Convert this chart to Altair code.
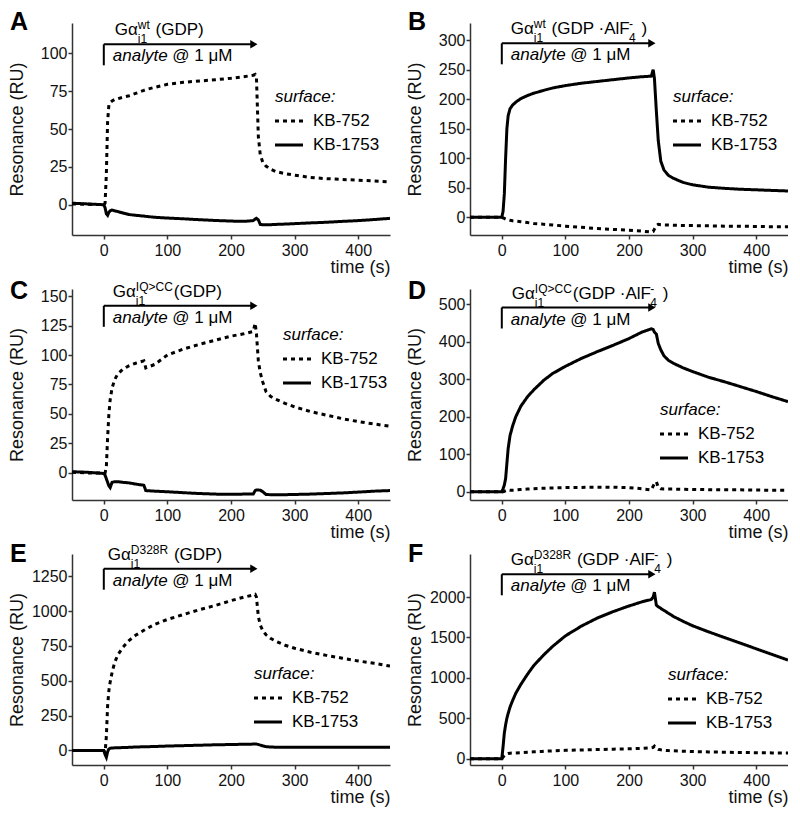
import altair as alt
import pandas as pd

# ---------------- data ----------------
SERIES = ["KB-752", "KB-1753"]
T = [-50, -25, 0, 2, 4, 6, 8, 10, 13, 17, 22, 30, 40, 50, 63, 66, 80, 100, 125, 150,
     175, 200, 220, 235, 238, 240, 243, 246, 250, 255, 262, 270, 285, 300, 325, 350,
     375, 400, 425, 450]

A_752 = [0.5, 0.3, 0, 1, 20, 55, 66, 67.5, 68.5, 69.5, 70, 71, 72, 73.5, 75.5, 76, 77.5, 79.5, 80.8, 81.7,
         82.5, 83.5, 84.5, 85.5, 86, 84, 45, 33, 28, 25.5, 23.5, 22, 20.5, 19.5, 18, 17.2, 16.7, 16.2, 15.7, 15]
A_1753 = [1, 0.5, 0, -2, -6, -7, -5, -4, -3.5, -4, -4.5, -5.5, -6.5, -7, -7.5, -7.7, -8.3, -8.8, -9.3, -9.9,
          -10.4, -10.8, -11, -10.5, -9.5, -9, -10, -13, -13.3, -13.2, -13.2, -13, -12.8, -12.5, -12, -11.6, -11, -10.5, -9.8, -9]
B_752 = [0, 0, 0, -1, -2, -3, -3.5, -4, -5, -6, -6.5, -7.5, -9, -10.5, -11.5, -12, -13, -15, -17, -19,
         -20.5, -22, -23.5, -25, -24, -20, -14, -12, -12.5, -13, -13, -13.5, -14, -14, -14.5, -15, -15, -15.5, -16, -16]
B_1753 = [0, 0, 0, 10, 40, 100, 150, 172, 184, 190, 195, 201, 206, 210, 214, 215, 219, 223, 227, 230,
          233, 236, 238, 239, 250, 235, 180, 130, 95, 80, 71, 66, 59, 55, 51, 49, 47.5, 46.5, 45.5, 44.5]
C_752 = [0.5, 0, 0, 0, 5, 30, 50, 62, 72, 79, 84, 88, 91, 93, 95, 89, 92, 100, 105, 109,
         112.5, 116, 118, 120, 127, 118, 95, 85, 77, 69, 65, 62.5, 59, 56, 52, 49, 46, 43.5, 41.5, 39.5]
C_1753 = [1, 0.5, -0.5, -2, -5, -8, -11, -12.5, -8, -7.5, -7.5, -8, -8.5, -9.5, -10.5, -15, -15.5, -16, -16.8, -17.5,
          -18, -18.2, -18, -18, -15, -14.5, -14.5, -14.7, -16, -18.3, -18.5, -18.5, -18.5, -18.3, -18, -17.5, -17, -16.3, -15.5, -15]
D_752 = [0, 0, 0, 0, 1, 3, 4, 5, 4, 4, 5, 6, 7, 8, 9, 9, 10, 11, 11.5, 12,
         12, 11, 8, 5, 15, 22, 27, 12, 8, 7, 7, 7, 6.5, 6, 5.5, 5, 5, 4.5, 4, 4]
D_1753 = [0, 0, 0, 8, 18, 35, 75, 115, 150, 175, 200, 228, 252, 271, 292, 297, 315, 334, 355, 373,
          390, 408, 425, 434, 432, 425, 420, 395, 378, 362, 350, 342, 330, 320, 305, 293, 280, 267, 253, 240]
E_752 = [0, 0, 0, -20, 100, 320, 430, 490, 560, 630, 685, 740, 790, 826, 862, 870, 905, 940, 975, 1010,
         1040, 1075, 1100, 1115, 1120, 1100, 960, 900, 860, 830, 805, 785, 755, 733, 705, 682, 662, 642, 625, 605]
E_1753 = [0, 0, 0, -30, -50, -10, 10, 15, 17, 18, 19, 20, 22, 24, 26, 26, 28, 31, 34, 37,
          40, 42, 44, 45, 45, 45, 42, 38, 32, 27, 24, 23, 22, 22, 22, 22, 22, 22, 22, 22]
F_752 = [0, 0, 0, 20, 40, 55, 60, 65, 68, 70, 72, 75, 80, 85, 90, 92, 97, 103, 108, 113,
         118, 122, 128, 135, 140, 155, 130, 115, 110, 105, 100, 97, 92, 88, 84, 80, 77, 74, 72, 70]
F_1753 = [0, 0, 0, 150, 320, 420, 500, 560, 640, 720, 810, 920, 1040, 1150, 1260, 1285, 1390, 1520, 1640, 1740,
          1820, 1890, 1940, 1970, 2000, 2060, 1900, 1880, 1860, 1835, 1800, 1760, 1700, 1645, 1570, 1500, 1430, 1360, 1290, 1220]

INJ_START, INJ_END = 0, 240
X_TICKS = [0, 50, 100, 150, 200, 250, 300, 350, 400]

FONT = "Liberation Sans"
W = {' ': 278, '(': 333, ')': 333, 'G': 778, 'D': 722, 'P': 667, 'A': 667, 'l': 222, 'F': 611,
     '·': 278, 'i': 222, '1': 556, '2': 556, '3': 556, '4': 556, '8': 556, 'w': 722, 't': 278,
     'I': 278, 'Q': 778, '>': 584, 'C': 722, 'R': 722, '-': 333, 'α': 578, 'a': 556, 'n': 556,
     'y': 500, 'e': 556, '@': 1015, 'μ': 576, 'M': 833}

TFS, SFS = 17, 12
SUB_DY, SUP_DY = 8, -6


def tw(s, fs):
    return sum(W.get(c, 556) for c in s) * fs / 1000.0


def title_pieces(segs, fs=TFS, sfs=SFS):
    """Lay out text runs with sub/superscripts; leading spaces become offsets."""
    x = 0.0
    out = []
    i = 0
    while i < len(segs):
        txt, kind = segs[i]
        if kind == "n":
            lead = len(txt) - len(txt.lstrip(" "))
            x += tw(" " * lead, fs)
            body = txt.strip(" ")
            out.append((body, x, 0, fs))
            x += tw(body, fs) + tw(" " * (len(txt) - lead - len(body)), fs)
            i += 1
        else:
            sub, sup = txt, segs[i + 1][0]
            out.append((sub, x, SUB_DY, sfs))
            out.append((sup, x, SUP_DY, sfs))
            x += max(tw(sub, sfs), tw(sup, sfs)) + 1
            i += 2
    return out


def alf(sup):
    return [("Gα", "n"), ("i1", "s"), (sup, "s"), (" (GDP ·AlF" if sup != "IQ>CC" else "(GDP ·AlF", "n"),
            ("4", "s"), ("-", "s"), (" )", "n")]


def gdp(sup):
    return [("Gα", "n"), ("i1", "s"), (sup, "s"), (" (GDP)" if sup != "IQ>CC" else "(GDP)", "n")]


panels = [
    dict(key="A", s752=A_752, s1753=A_1753, dom=[-20, 120], yt=[0, 25, 50, 75, 100], title=gdp("wt"),
         ay=21.3, leg=(203, 74), h=212, tx=11, ly=7),
    dict(key="B", s752=B_752, s1753=B_1753, dom=[-30, 329], yt=[0, 50, 100, 150, 200, 250, 300], title=alf("wt"),
         ay=20.3, leg=(203, 74), h=212, tx=9, ly=7),
    dict(key="C", s752=C_752, s1753=C_1753, dom=[-23, 156], yt=[0, 25, 50, 75, 100, 125, 150], title=gdp("IQ>CC"),
         ay=16.8, leg=(211, 46), h=211, tx=9, ly=9.5),
    dict(key="D", s752=D_752, s1753=D_1753, dom=[-22, 540], yt=[0, 100, 200, 300, 400, 500], title=alf("IQ>CC"),
         ay=18.5, leg=(190, 121), h=211, tx=10, ly=9.5),
    dict(key="E", s752=E_752, s1753=E_1753, dom=[-105, 1410], yt=[0, 250, 500, 750, 1000, 1250], title=gdp("D328R"),
         ay=14.7, leg=(182, 120), h=211, tx=4, ly=8),
    dict(key="F", s752=F_752, s1753=F_1753, dom=[-78, 2533], yt=[0, 500, 1000, 1500, 2000], title=alf("D328R"),
         ay=20.3, leg=(198, 121), h=211, tx=9, ly=8),
]

PW = 318


def one(**kw):
    return alt.Chart(pd.DataFrame({k: [v] for k, v in kw.items()}))


def make_panel(p):
    df = pd.DataFrame({
        "time": T * 2,
        "value": list(p["s752"]) + list(p["s1753"]),
        "series": [SERIES[0]] * len(T) + [SERIES[1]] * len(T),
    })
    x_enc = alt.X("time:Q", scale=alt.Scale(domain=[-50, 450], nice=False, zero=False),
                  axis=alt.Axis(values=X_TICKS, labelExpr="datum.value % 100 === 0 ? datum.label : ''",
                                title="time (s)", titleAnchor="end", titleAlign="right",
                                titleBaseline="alphabetic", titleY=37.5, labelPadding=3))
    y_enc = alt.Y("value:Q", scale=alt.Scale(domain=p["dom"], nice=False, zero=False),
                  axis=alt.Axis(values=p["yt"], format="d", title="Resonance (RU)", minExtent=40,
                                maxExtent=40, titlePadding=6, labelPadding=1))
    lines = alt.Chart(df).mark_line(color="black", strokeWidth=3, clip=True).encode(
        x=x_enc, y=y_enc,
        strokeDash=alt.StrokeDash("series:N", scale=alt.Scale(domain=SERIES, range=[[4, 4], [1, 0]]), legend=None),
        detail="series:N",
    )
    layers = [lines]
    ay = p["ay"]
    # injection arrow
    layers.append(one(time=INJ_START, time2=INJ_END - 5).mark_rule(color="black", strokeWidth=2).encode(
        x="time:Q", x2="time2:Q", y=alt.value(ay)))
    layers.append(one(time=INJ_START).mark_rule(color="black", strokeWidth=2).encode(
        x="time:Q", y=alt.value(ay), y2=alt.value(ay + 21)))
    layers.append(one(time=INJ_END - 4).mark_point(shape="triangle-right", filled=True, color="black",
                                                   opacity=1, size=70).encode(x="time:Q", y=alt.value(ay)))
    # analyte title (with sub/superscripts)
    for txt, dx, dy, fs in title_pieces(p["title"]):
        layers.append(one(time=INJ_START).mark_text(text=txt, align="left", baseline="alphabetic",
                                                    fontSize=fs, dx=p["tx"] + dx, color="black").encode(
            x="time:Q", y=alt.value(ay - 9 + dy)))
    layers.append(one(time=INJ_START).mark_text(text="analyte", align="left", baseline="alphabetic",
                                                fontSize=17, fontStyle="italic", dx=9, color="black").encode(
        x="time:Q", y=alt.value(ay + 17)))
    layers.append(one(time=INJ_START).mark_text(text="@ 1 μM", align="left", baseline="alphabetic",
                                                fontSize=17, dx=9 + tw("analyte ", 17), color="black").encode(
        x="time:Q", y=alt.value(ay + 17)))
    # legend
    lx, ly = p["leg"]
    layers.append(one(a=1).mark_text(text="surface:", align="left", baseline="middle", fontSize=17,
                                     fontStyle="italic", color="black").encode(x=alt.value(lx), y=alt.value(ly)))
    for k, (name, dash) in enumerate(zip(SERIES, [[4, 4], [1, 0]])):
        yy = ly + 24 * (k + 1)
        layers.append(one(a=1).mark_rule(color="black", strokeWidth=3, strokeDash=dash).encode(
            x=alt.value(lx), x2=alt.value(lx + 28), y=alt.value(yy)))
        layers.append(one(a=1).mark_text(text=name, align="left", baseline="middle", fontSize=17,
                                         color="black").encode(x=alt.value(lx + 38), y=alt.value(yy)))
    # panel letter
    layers.append(one(a=1).mark_text(text=p["key"], align="left", baseline="alphabetic", fontSize=25,
                                     fontWeight="bold", color="black").encode(x=alt.value(-62), y=alt.value(p["ly"])))
    return alt.layer(*layers).properties(width=PW, height=p["h"])


charts = [make_panel(p) for p in panels]

chart = alt.concat(*charts, columns=2, spacing={"row": 54, "column": 80}, bounds="flush").properties(
    padding={"left": 0, "top": 2, "right": 0, "bottom": 0}
).configure(font=FONT).configure_view(stroke=None).configure_axis(
    grid=False, domainColor="#333", tickColor="#333", domainWidth=1.5, tickWidth=1.5, tickSize=4,
    labelFontSize=16, labelColor="#111", titleFontSize=18, titleFontWeight="normal", titleColor="#111",
    labelFont=FONT, titleFont=FONT
)

chart.save("out.html", embed_options={"renderer": "svg", "actions": False})
